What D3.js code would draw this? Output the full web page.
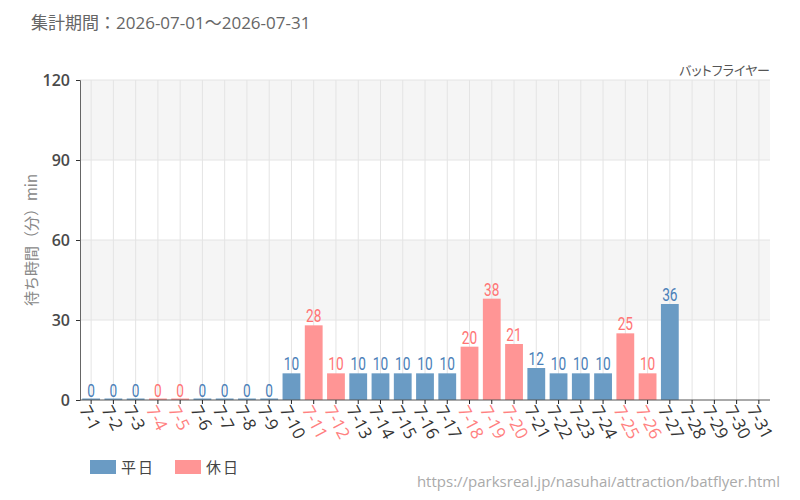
<!DOCTYPE html>
<html>
<head>
<meta charset="utf-8">
<script src="https://cdn.jsdelivr.net/npm/d3@7"></script>
<style>
  body { margin: 0; background: #fff; }
  text { font-family: "Noto Sans CJK JP", "Noto Sans", sans-serif; }
</style>
</head>
<body>
<div id="chart"></div>
<script>
// data
const days = ["7-1","7-2","7-3","7-4","7-5","7-6","7-7","7-8","7-9","7-10","7-11","7-12","7-13","7-14","7-15","7-16",
  "7-17","7-18","7-19","7-20","7-21","7-22","7-23","7-24","7-25","7-26","7-27","7-28","7-29","7-30","7-31"];
const waits = [0,0,0,0,0,0,0,0,0,10,28,10,10,10,10,10,10,20,38,21,12,10,10,10,25,10,36,null,null,null,null];
const holidays = ["7-4","7-5","7-11","7-12","7-18","7-19","7-20","7-25","7-26"];
const yTicks = [0, 30, 60, 90, 120];
const legendItems = ["平日", "休日"];

const width = 800, height = 500;
const margin = {top: 80, right: 30, bottom: 100, left: 80};

const barColor = {weekday: "#6a9bc4", holiday: "#ff9595"};
const labelColor = {weekday: "#4a80b8", holiday: "#ff7474"};
const isHol = d => holidays.includes(d);

const svg = d3.select("#chart").append("svg")
  .attr("width", width)
  .attr("height", height);

const x = d3.scaleBand()
  .domain(days)
  .range([margin.left, width - margin.right])
  .paddingInner(0.2)
  .paddingOuter(0.1);

const y = d3.scaleLinear()
  .domain([0, 120])
  .range([height - margin.bottom, margin.top]);

// alternating bands
svg.selectAll(".band")
  .data([[30, 60], [90, 120]])
  .join("rect")
  .attr("x", margin.left)
  .attr("width", width - margin.right - margin.left)
  .attr("y", d => y(d[1]))
  .attr("height", d => y(d[0]) - y(d[1]))
  .attr("fill", "#f5f5f5");

// grid
svg.selectAll(".hgrid")
  .data(yTicks.slice(1))
  .join("line")
  .attr("x1", margin.left).attr("x2", width - margin.right)
  .attr("y1", d => y(d)).attr("y2", d => y(d))
  .attr("stroke", "#e4e4e4");

svg.selectAll(".vgrid")
  .data(days)
  .join("line")
  .attr("x1", d => x(d) + x.bandwidth() / 2).attr("x2", d => x(d) + x.bandwidth() / 2)
  .attr("y1", y(0)).attr("y2", y(120))
  .attr("stroke", "#e4e4e4");

const data = days.map((d, i) => ({day: d, v: waits[i]})).filter(d => d.v !== null);

// bars
svg.selectAll(".bar")
  .data(data)
  .join("rect")
  .attr("x", d => x(d.day))
  .attr("width", x.bandwidth())
  .attr("y", d => Math.min(y(d.v), y(0) - 1.5))
  .attr("height", d => Math.max(y(0) - y(d.v), 1.5))
  .attr("fill", d => isHol(d.day) ? barColor.holiday : barColor.weekday);

// value labels
svg.selectAll(".val")
  .data(data)
  .join("text")
  .attr("transform", d => `translate(${x(d.day) + x.bandwidth() / 2},${y(d.v) - 3}) scale(0.72,1)`)
  .attr("text-anchor", "middle")
  .style("font-family", "Roboto, sans-serif")
  .attr("font-size", 19)
  .attr("fill", d => isHol(d.day) ? labelColor.holiday : labelColor.weekday)
  .text(d => d.v);

// y axis
const yAxis = svg.append("g")
  .attr("transform", `translate(${margin.left},0)`)
  .call(d3.axisLeft(y).tickValues(yTicks).tickSize(4).tickPadding(6));
yAxis.select(".domain").attr("stroke", "#666");
yAxis.selectAll(".tick line").attr("stroke", "#333");
yAxis.selectAll(".tick text")
  .attr("font-size", 16)
  .attr("font-weight", 600)
  .attr("fill", "#4a4a4a")
  .style("font-family", "'Open Sans', sans-serif");

// x axis
const xAxis = svg.append("g")
  .attr("transform", `translate(0,${y(0)})`)
  .call(d3.axisBottom(x).tickSize(4).tickPadding(4));
xAxis.select(".domain").attr("stroke", "#555").attr("d", `M${margin.left},0H${width - margin.right}`);
xAxis.selectAll(".tick line").attr("stroke", "#222");
xAxis.selectAll(".tick text")
  .attr("text-anchor", "start")
  .attr("dy", 0)
  .attr("transform", "translate(-5,6) rotate(62)")
  .attr("font-size", 17)
  .attr("fill", d => isHol(d) ? "#ff8080" : "#333")
  .style("font-family", "'Open Sans', sans-serif");

// titles
svg.append("text")
  .attr("x", 31).attr("y", 29)
  .attr("font-size", 17)
  .attr("fill", "#666")
  .style("font-family", "'Open Sans', 'Noto Sans CJK JP', sans-serif")
  .text("集計期間：2026-07-01～2026-07-31");

svg.append("text")
  .attr("x", width - margin.right).attr("y", 75)
  .attr("text-anchor", "end")
  .attr("font-size", 13)
  .attr("fill", "#555")
  .style("font-feature-settings", "'palt'")
  .text("バットフライヤー");

svg.append("text")
  .attr("transform", `translate(37,${(y(0) + y(120)) / 2}) rotate(-90)`)
  .attr("text-anchor", "middle")
  .attr("font-size", 15)
  .attr("fill", "#888")
  .text("待ち時間（分）min");

// legend
const legend = svg.selectAll(".legend")
  .data(legendItems)
  .join("g")
  .attr("transform", (d, i) => `translate(${90 + i * 85},460)`);
legend.append("rect")
  .attr("width", 26).attr("height", 14)
  .attr("fill", (d, i) => i ? barColor.holiday : barColor.weekday);
legend.append("text")
  .attr("x", 31).attr("y", 13)
  .attr("font-size", 15)
  .attr("fill", "#444")
  .attr("letter-spacing", 2)
  .text(d => d);

svg.append("text")
  .attr("x", 780).attr("y", 487)
  .attr("text-anchor", "end")
  .attr("font-size", 15)
  .attr("fill", "#aaa")
  .style("font-family", "'Open Sans', sans-serif")
  .text("https://parksreal.jp/nasuhai/attraction/batflyer.html");
</script>
</body>
</html>
